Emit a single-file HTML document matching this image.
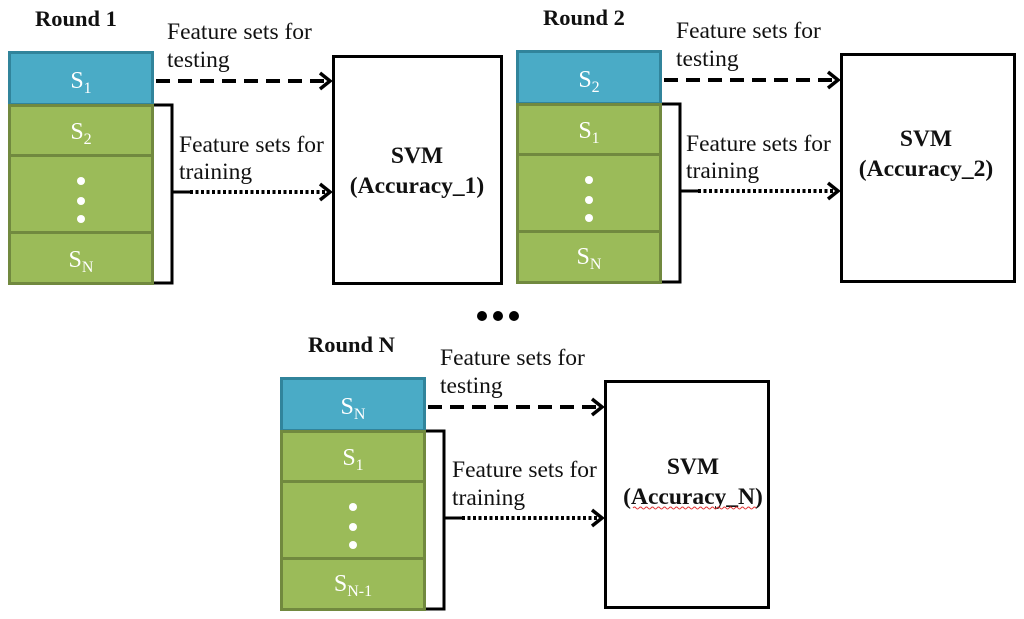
<!DOCTYPE html>
<html><head><meta charset="utf-8"><style>
html,body{margin:0;padding:0;background:#fff;}
svg{display:block;}
text{font-family:"Liberation Serif",serif;}
.lbl{font-size:23.5px;fill:#111;}
.ttl{font-size:22.5px;font-weight:bold;fill:#111;}
.svm{font-size:23.5px;font-weight:bold;fill:#111;text-anchor:middle;}
.s{font-size:24px;fill:#fff;text-anchor:middle;}
.sub{font-size:16px;}
</style></head><body>
<svg width="1024" height="619" viewBox="0 0 1024 619" xmlns="http://www.w3.org/2000/svg">
<defs>
<g id="stack">
  <rect x="1.5" y="1.5" width="143" height="52" fill="#4aabc6" stroke="#31849b" stroke-width="3"/>
  <rect x="1.5" y="54.5" width="143" height="50" fill="#9bbb59" stroke="#71893f" stroke-width="3"/>
  <rect x="1.5" y="104.5" width="143" height="77" fill="#9bbb59" stroke="#71893f" stroke-width="3"/>
  <rect x="1.5" y="181.5" width="143" height="51" fill="#9bbb59" stroke="#71893f" stroke-width="3"/>
  <circle cx="73" cy="130" r="4" fill="#fff"/>
  <circle cx="73" cy="150" r="4" fill="#fff"/>
  <circle cx="73" cy="168" r="4" fill="#fff"/>
  <path d="M146 54 H164 V232 H146 M164 141 H182" fill="none" stroke="#000" stroke-width="3"/>
  <line x1="148" y1="30" x2="318" y2="30" stroke="#000" stroke-width="4" stroke-dasharray="14,8"/>
  <path d="M312 22 L322 30 L312 38" fill="none" stroke="#000" stroke-width="3.5"/>
  <line x1="182" y1="141" x2="318" y2="141" stroke="#000" stroke-width="4" stroke-dasharray="3,2.5"/>
  <path d="M312 133 L322 141 L312 149" fill="none" stroke="#000" stroke-width="3.5"/>
</g>
</defs>

<!-- Round 1 -->
<g transform="translate(8,51)">
  <use href="#stack"/>
  <rect x="325.5" y="5.5" width="168" height="227" fill="#fff" stroke="#000" stroke-width="3"/>
  <text class="ttl" x="27" y="-25">Round 1</text>
  <text class="lbl" x="159" y="-12">Feature sets for</text>
  <text class="lbl" x="159" y="16">testing</text>
  <text class="lbl" x="171" y="101">Feature sets for</text>
  <text class="lbl" x="171" y="128">training</text>
  <text class="svm" x="409" y="112">SVM</text>
  <text class="svm" x="409" y="142">(Accuracy_1)</text>
  <text class="s" x="73" y="37">S<tspan class="sub" dy="5">1</tspan></text>
  <text class="s" x="73" y="88">S<tspan class="sub" dy="5">2</tspan></text>
  <text class="s" x="73" y="216">S<tspan class="sub" dy="5">N</tspan></text>
</g>

<!-- Round 2 -->
<g transform="translate(516,50)">
  <use href="#stack"/>
  <rect x="325.5" y="4.5" width="173" height="227" fill="#fff" stroke="#000" stroke-width="3"/>
  <text class="ttl" x="27" y="-25">Round 2</text>
  <text class="lbl" x="160" y="-12">Feature sets for</text>
  <text class="lbl" x="160" y="16">testing</text>
  <text class="lbl" x="170" y="101">Feature sets for</text>
  <text class="lbl" x="170" y="128">training</text>
  <text class="svm" x="410" y="96">SVM</text>
  <text class="svm" x="410" y="126">(Accuracy_2)</text>
  <text class="s" x="73" y="37">S<tspan class="sub" dy="5">2</tspan></text>
  <text class="s" x="73" y="88">S<tspan class="sub" dy="5">1</tspan></text>
  <text class="s" x="73" y="214">S<tspan class="sub" dy="5">N</tspan></text>
</g>

<circle cx="482" cy="316" r="5" fill="#000"/>
<circle cx="498" cy="316" r="5" fill="#000"/>
<circle cx="514" cy="316" r="5" fill="#000"/>

<!-- Round N -->
<g transform="translate(280,377)">
  <use href="#stack"/>
  <rect x="325.5" y="4.5" width="163" height="226" fill="#fff" stroke="#000" stroke-width="3"/>
  <text class="ttl" x="28" y="-25">Round N</text>
  <text class="lbl" x="160" y="-12">Feature sets for</text>
  <text class="lbl" x="160" y="16">testing</text>
  <text class="lbl" x="172" y="100">Feature sets for</text>
  <text class="lbl" x="172" y="128">training</text>
  <text class="svm" x="413" y="97">SVM</text>
  <text class="svm" x="413" y="127">(Accuracy_N)</text>
  <path d="M353 131 q1.5 -2 3 0 t3 0 t3 0 t3 0 t3 0 t3 0 t3 0 t3 0 t3 0 t3 0 t3 0 t3 0 t3 0 t3 0 t3 0 t3 0 t3 0 t3 0 t3 0 t3 0 t3 0 t3 0 t3 0 t3 0 t3 0 t3 0 t3 0 t3 0 t3 0 t3 0 t3 0 t3 0 t3 0 t3 0 t3 0 t3 0 t3 0 t3 0 t3 0 t3 0 t3 0" fill="none" stroke="#e03030" stroke-width="1"/>
  <text class="s" x="73" y="37">S<tspan class="sub" dy="5">N</tspan></text>
  <text class="s" x="73" y="88">S<tspan class="sub" dy="5">1</tspan></text>
  <text class="s" x="73" y="214">S<tspan class="sub" dy="5">N-1</tspan></text>
</g>
</svg>
</body></html>
